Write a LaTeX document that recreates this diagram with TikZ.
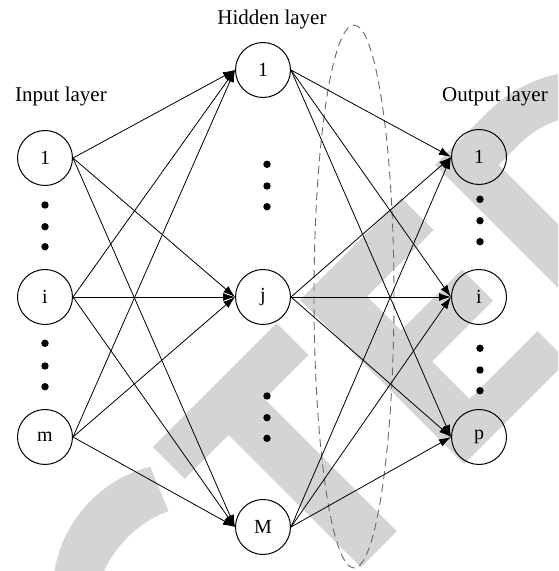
\documentclass[tikz,border=0pt]{standalone}
\usepackage{fontspec}
\setmainfont{Liberation Serif}
\usetikzlibrary{arrows.meta}
\definecolor{wm}{RGB}{212,212,212}
\definecolor{dashc}{RGB}{105,105,105}
\begin{document}
\begin{tikzpicture}[x=1pt,y=1pt,
  neuron/.style={circle,draw,line width=1pt,minimum size=55pt,inner sep=0pt,font=\fontsize{20}{24}\selectfont},
  conn/.style={line width=0.8pt,-{Latex[length=12pt,width=8pt]}},
  lab/.style={font=\fontsize{21}{25}\selectfont,anchor=base,inner sep=0pt},
  dotc/.style={fill=black}]
\useasboundingbox (0,0) rectangle (558,571);
% watermark
\begin{scope}
\clip (0,0) rectangle (558,571);
\begin{scope}[shift={(464,107)},rotate=45]
  % C
  \begin{scope}[shift={(-290,118)}]
    \fill[wm] (58:125pt and 120pt) arc[start angle=58,end angle=302,x radius=125pt,y radius=120pt]
      -- (302:90pt and 68pt) arc[start angle=302,end angle=58,x radius=90pt,y radius=68pt] -- cycle;
  \end{scope}
  % T
  \fill[wm] (-208,232) -- (-33,232) -- (-33,187) -- (-95,187) -- (-95,0) -- (-146,0) -- (-146,187) -- (-208,187) -- cycle;
  % E
  \fill[wm] (0,0) -- (146,0) -- (146,42) -- (50,42) -- (50,95) -- (136,95) -- (136,139) -- (50,139) -- (50,187) -- (144,187) -- (144,232) -- (0,232) -- cycle;
  % D
  \fill[wm,even odd rule] (191,0) -- (191,232) -- (265,232) arc[start angle=90,end angle=-90,x radius=130pt,y radius=116pt] -- cycle
    (236,45) -- (236,187) -- (265,187) arc[start angle=90,end angle=-90,x radius=85pt,y radius=71pt] -- cycle;
\end{scope}
\end{scope}
% dashed ellipse
\draw[dashc,line width=0.9pt,dash pattern=on 8pt off 5pt] (354,274.5) ellipse [x radius=40pt,y radius=271.5pt];
% labels
\node[lab] (tin) at (61,469) {Input layer};
\node[lab] (thid) at (272,546) {Hidden layer};
\node[lab] (tout) at (495,469) {Output layer};
% neurons
\node[neuron] (in1) at (45,413) {1};
\node[neuron] (ini) at (45,274) {i};
\node[neuron] (inm) at (45,134) {m};
\node[neuron] (h1) at (263,501) {1};
\node[neuron] (hj) at (263,274) {j};
\node[neuron] (hM) at (263,44) {M};
\node[neuron] (o1) at (479,414) {1};
\node[neuron] (oi) at (479,274) {i};
\node[neuron] (op) at (479,134) {p};
% dots
\foreach \x/\y in {45/366, 45/344.3, 45/324.3, 45/227.7, 45/205, 45/184.3,
                   267/406.7, 267/385, 267/364.3, 267/175, 267/153.3, 267/132.7,
                   480/371.7, 480/350.3, 480/329.3, 480/222.7, 480/201, 480/180.3}
  \fill[dotc] (\x,\y) circle (3.7pt);
% connections
\foreach \a in {in1,ini,inm}
  \foreach \b in {h1,hj,hM}
    \draw[conn] (\a.east) -- (\b.west);
\foreach \a in {h1,hj,hM}
  \foreach \b in {o1,oi,op}
    \draw[conn] (\a.east) -- (\b.west);
\end{tikzpicture}
\end{document}
